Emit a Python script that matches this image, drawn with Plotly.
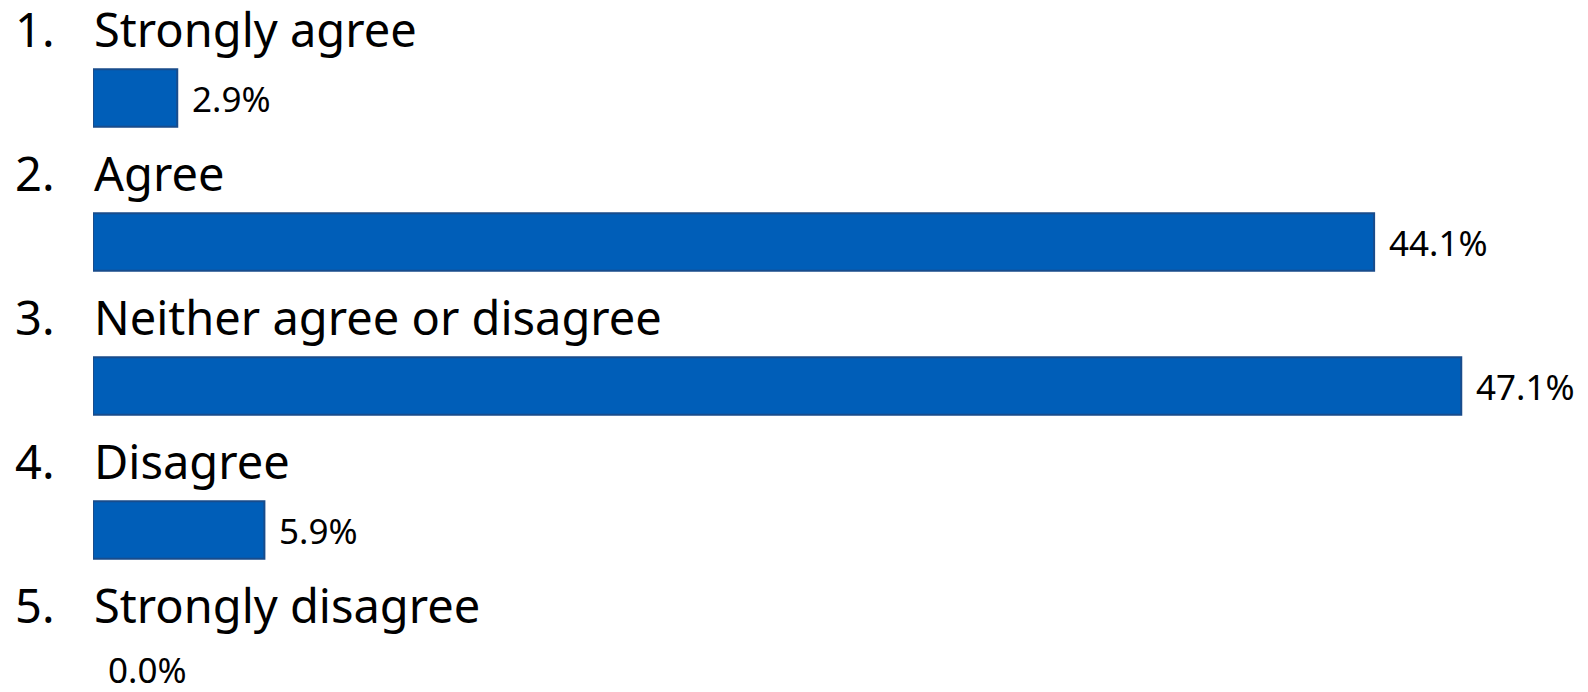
import plotly.graph_objects as go

# Survey response options and share of respondents (%)
numbers = ["1.", "2.", "3.", "4.", "5."]
categories = ["Strongly agree", "Agree", "Neither agree or disagree", "Disagree", "Strongly disagree"]
shares = [2.9, 44.1, 47.1, 5.9, 0.0]

FONT = "Noto Sans"
BAR_FILL = "#005EB8"
BAR_EDGE = "#184C8C"

rows = list(range(len(categories)))

fig = go.Figure(
    go.Bar(
        x=shares,
        y=rows,
        orientation="h",
        width=0.4,
        marker=dict(
            color=BAR_FILL,
            # no outline on empty bars
            line=dict(color=BAR_EDGE, width=[2 if v > 0 else 0 for v in shares]),
        ),
        hoverinfo="skip",
    )
)

annotations = []
last = len(categories) - 1
for i, (num, cat, val) in enumerate(zip(numbers, categories, shares)):
    # list number
    annotations.append(dict(
        x=0, y=i, xref="x", yref="y", text=num, showarrow=False,
        xanchor="left", yanchor="middle", xshift=-80, yshift=69,
        font=dict(family=FONT, size=47, color="#000000"),
    ))
    # option text
    annotations.append(dict(
        x=0, y=i, xref="x", yref="y", text=cat, showarrow=False,
        xanchor="left", yanchor="middle", xshift=-1, yshift=69,
        font=dict(family=FONT, size=47, color="#000000"),
    ))
    # value label at the end of the bar (bottom row nudged up to stay on the page)
    annotations.append(dict(
        x=val, y=i, xref="x", yref="y", text=f"{val:.1f}%", showarrow=False,
        xanchor="left", yanchor="middle", xshift=13,
        yshift=5 if i == last else 0, height=34,
        font=dict(family=FONT, size=35, color="#000000"),
    ))

PX_PER_PCT = 29.05
PLOT_W = 1588 - 93
ROW_PX = 144
FIRST_ROW_PX = 98

fig.update_layout(
    width=1588,
    height=692,
    margin=dict(l=93, r=0, t=0, b=0),
    paper_bgcolor="white",
    plot_bgcolor="white",
    showlegend=False,
    annotations=annotations,
    xaxis=dict(range=[0, PLOT_W / PX_PER_PCT], visible=False, fixedrange=True),
    yaxis=dict(
        range=[(692 - FIRST_ROW_PX) / ROW_PX, -FIRST_ROW_PX / ROW_PX],
        visible=False, fixedrange=True,
    ),
)

fig.write_html("out.html", config={"displayModeBar": False})
